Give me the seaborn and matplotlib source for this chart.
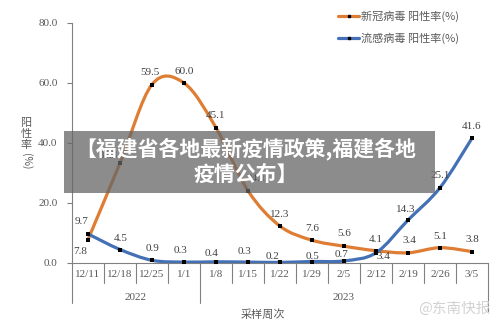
import numpy as np
import matplotlib
matplotlib.use('Agg')
import matplotlib.pyplot as plt
import seaborn as sns
from matplotlib.path import Path
from matplotlib.patches import PathPatch, Rectangle
from matplotlib.lines import Line2D
import matplotlib.transforms as mtransforms

# ---------------- data ----------------
weeks = ['12/11', '12/18', '12/25', '1/1', '1/8', '1/15', '1/22',
         '1/29', '2/5', '2/12', '2/19', '2/26', '3/5']
covid = [7.8, 33.3, 59.5, 60.0, 45.1, 24.1, 12.3, 7.6, 5.6, 4.1, 3.4, 5.1, 3.8]
flu = [9.7, 4.5, 0.9, 0.3, 0.4, 0.3, 0.2, 0.5, 0.7, 3.4, 14.3, 25.1, 41.6]
series_names = ['新冠病毒 阳性率(%)', '流感病毒 阳性率(%)']
years = ['2022', '2023']
year_first_week = ['12/11', '1/8']
year_last_week = ['1/1', '3/5']
yticks = [0, 20, 40, 60, 80]
x_title = '采样周次'
y_title_chars = ['阳', '性', '率']
y_title_unit = '(%)'
banner_text = '【福建省各地最新疫情政策,福建各地\n疫情公布】'
watermark = '@东南快报'

# ---------------- style ----------------
ORANGE = '#DE7D33'
BLUE = '#4470B5'
AXIS_GRAY = '#808080'
TXT = '#595959'
LBL = '#404040'
NUM_FONT = ['Liberation Serif', 'Noto Sans CJK SC']
CJK_FONT = ['Noto Sans CJK SC', 'DejaVu Sans']

# label offsets in pixels (dx, dy)
covid_off = [(-8, -12), (-12, 8), (-2, 12), (0, 12), (0, 12), (8, 12), (0, 12),
             (0, 12), (0, 13), (0, 11), (1, 12), (0, 11), (0, 12)]
flu_off = [(-6, 12), (1, 11), (0, 12), (-4, 12), (-4, 8), (-4, 11), (-7, 6),
           (1, 5), (-2, 6), (7, -4), (-2, 11), (0, 12), (0, 12)]

sns.set_theme(style='white')
plt.rcParams['font.family'] = CJK_FONT
plt.rcParams['axes.unicode_minus'] = False

W, H = 500, 326
fig = plt.figure(figsize=(W / 100, H / 100), dpi=100)
fig.patch.set_facecolor('white')
ax = fig.add_axes([72 / W, 63 / H, 416 / W, 240 / H])
ax.set_facecolor('white')

xpos = np.arange(len(weeks))


def smooth_path(xs, ys):
    pts = np.column_stack([xs, ys]).astype(float)
    n = len(pts)
    verts = [pts[0]]
    codes = [Path.MOVETO]
    for i in range(n - 1):
        p0 = pts[i - 1] if i > 0 else pts[i]
        p1 = pts[i]
        p2 = pts[i + 1]
        p3 = pts[i + 2] if i + 2 < n else pts[i + 1]
        c1 = p1 + (p2 - p0) / 6.0
        c2 = p2 - (p3 - p1) / 6.0
        verts += [c1, c2, p2]
        codes += [Path.CURVE4] * 3
    return Path(verts, codes)


for vals, col in [(covid, ORANGE), (flu, BLUE)]:
    patch = PathPatch(smooth_path(xpos, vals), facecolor='none', edgecolor=col,
                      lw=2.3, transform=ax.transData, capstyle='round',
                      joinstyle='round', zorder=3)
    ax.add_patch(patch)
    sns.scatterplot(x=xpos, y=vals, ax=ax, marker='s', s=5, color='black',
                    edgecolor='black', linewidth=0, zorder=4, legend=False)

for vals, offs in [(covid, covid_off), (flu, flu_off)]:
    for x, v, (dx, dy) in zip(xpos, vals, offs):
        ax.annotate(f'{v:.1f}', (x, v), xytext=(dx, dy), textcoords='offset pixels',
                    ha='center', va='center', fontsize=8, color=LBL,
                    family=NUM_FONT, zorder=5)

ax.set_xlim(-0.5, len(weeks) - 0.5)
ax.set_ylim(yticks[0], yticks[-1])
ax.set_yticks(yticks)
ax.set_yticklabels([f'{t:.1f}' for t in yticks], family=NUM_FONT, fontsize=8, color=TXT)
ax.set_xticks(xpos)
ax.set_xticklabels(weeks, family=NUM_FONT, fontsize=8, color=TXT)
ax.tick_params(axis='x', length=0, pad=5)
ax.tick_params(axis='y', length=3.5, width=0.8, color=AXIS_GRAY, pad=7, direction='out', left=True)
for s in ['top', 'right']:
    ax.spines[s].set_visible(False)
for s in ['left', 'bottom']:
    ax.spines[s].set_color(AXIS_GRAY)
    ax.spines[s].set_linewidth(0.8)
ax.set_xlabel('')
ax.set_ylabel('')

# category separators and group labels
trans = mtransforms.blended_transform_factory(ax.transData, ax.transAxes)
group_edges = [weeks.index(w) - 0.5 for w in year_first_week] + [len(weeks) - 0.5]
for b in np.arange(-0.5, len(weeks), 1.0):
    if b in group_edges or b == -0.5:
        y1 = -40 / 240
        if b == len(weeks) - 0.5:
            y1 = -48 / 240
    else:
        y1 = -20 / 240
    ax.plot([b, b], [0, y1], transform=trans, color=AXIS_GRAY, lw=0.8,
            clip_on=False, zorder=2)
for yr, a, bnd in zip(years, year_first_week, year_last_week):
    c = (weeks.index(a) + weeks.index(bnd)) / 2
    ax.text(c, -34 / 240, yr, transform=trans, ha='center', va='center',
            fontsize=8, color=TXT, family=NUM_FONT)

fig.text(263 / W, 1 - 315 / H, x_title, ha='center', va='center', fontsize=8, color=TXT)
for k, ch in enumerate(y_title_chars):
    fig.text(26 / W, 1 - (123 + 11 * k) / H, ch, ha='center', va='center',
             fontsize=8, color=TXT, rotation=0)
fig.text(26 / W, 1 - 161 / H, y_title_unit, ha='center', va='center', rotation=-90,
         fontsize=7.5, color=TXT)

# legend
handles = [Line2D([], [], color=c, lw=2.3, marker='s', markersize=2,
                  markerfacecolor='black', markeredgecolor='black')
           for c in (ORANGE, BLUE)]
leg = ax.legend(handles, series_names, loc='upper left',
                bbox_to_anchor=(338 / W, 1 - 11 / H), bbox_transform=fig.transFigure,
                frameon=False, fontsize=8, handlelength=1.9, handletextpad=0.15,
                labelspacing=0.95, borderpad=0, borderaxespad=0, labelcolor=TXT)

# banner overlay
fig.patches.append(Rectangle((64 / W, 1 - 193 / H), (435 - 64) / W, 62 / H,
                             transform=fig.transFigure, facecolor='#666666',
                             alpha=0.75, edgecolor='none', zorder=10))
fig.text(246 / W, 1 - 161 / H, banner_text, ha='center', va='center', fontsize=15,
         fontweight='black', color='white', linespacing=1.25, zorder=11,
         family=CJK_FONT)

fig.text(454 / W, 1 - 309 / H, watermark, ha='center', va='center', fontsize=10.5,
         color='#d2d2d2', zorder=11)

fig.savefig('out.png', dpi=100, facecolor='white')
